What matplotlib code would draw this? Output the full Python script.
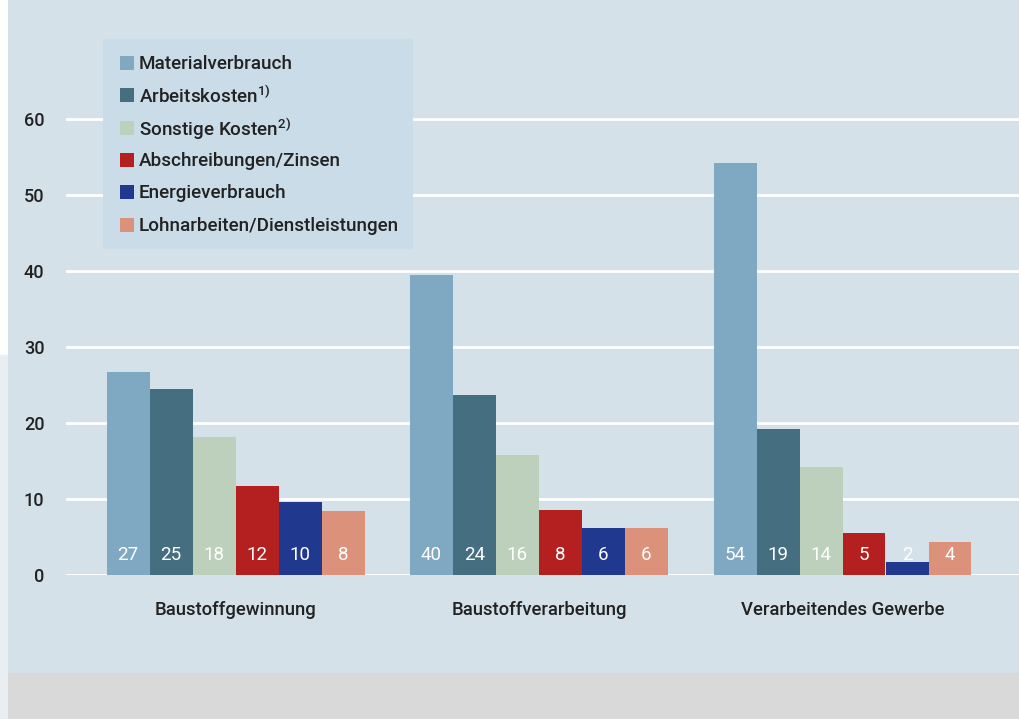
import matplotlib
matplotlib.use("Agg")
import matplotlib.pyplot as plt
import matplotlib.patches as mpatches
import numpy as np

plt.rcParams['font.family'] = ['Roboto', 'DejaVu Sans']

categories = ["Baustoffgewinnung", "Baustoffverarbeitung", "Verarbeitendes Gewerbe"]
series = ["Materialverbrauch", "Arbeitskosten$\\mathregular{^{1)}}$", "Sonstige Kosten$\\mathregular{^{2)}}$",
          "Abschreibungen/Zinsen", "Energieverbrauch", "Lohnarbeiten/Dienstleistungen"]
values = [
    [26.7, 39.5, 54.2],   # Materialverbrauch
    [24.5, 23.7, 19.2],   # Arbeitskosten
    [18.2, 15.8, 14.2],   # Sonstige Kosten
    [11.7, 8.6, 5.5],     # Abschreibungen/Zinsen
    [9.6, 6.2, 1.7],      # Energieverbrauch
    [8.4, 6.2, 4.3],      # Lohnarbeiten/Dienstleistungen
]
labels = [
    ["27", "40", "54"],
    ["25", "24", "19"],
    ["18", "16", "14"],
    ["12", "8", "5"],
    ["10", "6", "2"],
    ["8", "6", "4"],
]
colors = ["#7fa8c2", "#456e80", "#bdd0bb", "#b41f1f", "#21388f", "#dc917b"]
yticks = [0, 10, 20, 30, 40, 50, 60]

W, H = 1019, 719
fig = plt.figure(figsize=(W / 100, H / 100), dpi=100)
fig.patch.set_facecolor("#ffffff")

# background panels
bg = fig.add_axes([0, 0, 1, 1])
bg.set_xlim(0, W); bg.set_ylim(H, 0); bg.axis("off")
bg.add_patch(mpatches.Rectangle((0, 355), 8, H - 355, color="#e9eef2", lw=0))
bg.add_patch(mpatches.Rectangle((8, 0), W - 8, 673, color="#d4e1e9", lw=0))
bg.add_patch(mpatches.Rectangle((8, 673), W - 8, H - 673, color="#d9d9d9", lw=0))

# main axes: x pixel 66..1019, y pixel 575 (0) .. 60 (top)
ax_left, ax_right = 66, 1019
ax_bot, ax_top = 575, 60
ax = fig.add_axes([ax_left / W, 1 - ax_bot / H, (ax_right - ax_left) / W, (ax_bot - ax_top) / H])
ax.set_facecolor("none")
px_per_unit = 7.6
ax.set_ylim(0, (ax_bot - ax_top) / px_per_unit)
group_px = 303.5
ax.set_xlim(-(235.5 - ax_left) / group_px, (ax_right - 235.5) / group_px)
for s in ax.spines.values():
    s.set_visible(False)

for yt in yticks:
    ax.axhline(yt, color="white", lw=2.0, zorder=1)

bw = 43 / group_px
n = len(series)
x = np.arange(len(categories))
for i in range(n):
    xs = x + (i - (n - 1) / 2) * bw
    ax.bar(xs, values[i], width=bw, color=colors[i], zorder=2, linewidth=0)
    for j in range(len(categories)):
        ax.text(xs[j], 2.6, labels[i][j], ha="center", va="center",
                color="white", fontsize=13.5, zorder=3)

ax.set_yticks(yticks)
ax.set_yticklabels([str(t) for t in yticks], fontsize=13, color="#222222", fontweight="medium")
ax.tick_params(axis="y", length=0, pad=15.5)
ax.set_xticks(x)
ax.set_xticklabels(categories, fontsize=13.3, color="#222222", fontweight="medium")
ax.tick_params(axis="x", length=0, pad=19)

# legend overlay
lg = fig.add_axes([0, 0, 1, 1])
lg.set_xlim(0, W); lg.set_ylim(H, 0); lg.axis("off")
lg.patch.set_visible(False)
lg.add_patch(mpatches.Rectangle((103, 39), 310, 210, color="#c9dce7", lw=0, zorder=5))
row_y = [63, 95, 128, 160, 192, 225]
for i in range(n):
    lg.add_patch(mpatches.Rectangle((120, row_y[i] - 7), 14, 14, color=colors[i], lw=0, zorder=6))
    lg.text(139, row_y[i] + 1, series[i], fontsize=13.6, color="#222222",
            va="center", ha="left", zorder=7, fontweight="medium")

fig.savefig("out.png", dpi=100)
